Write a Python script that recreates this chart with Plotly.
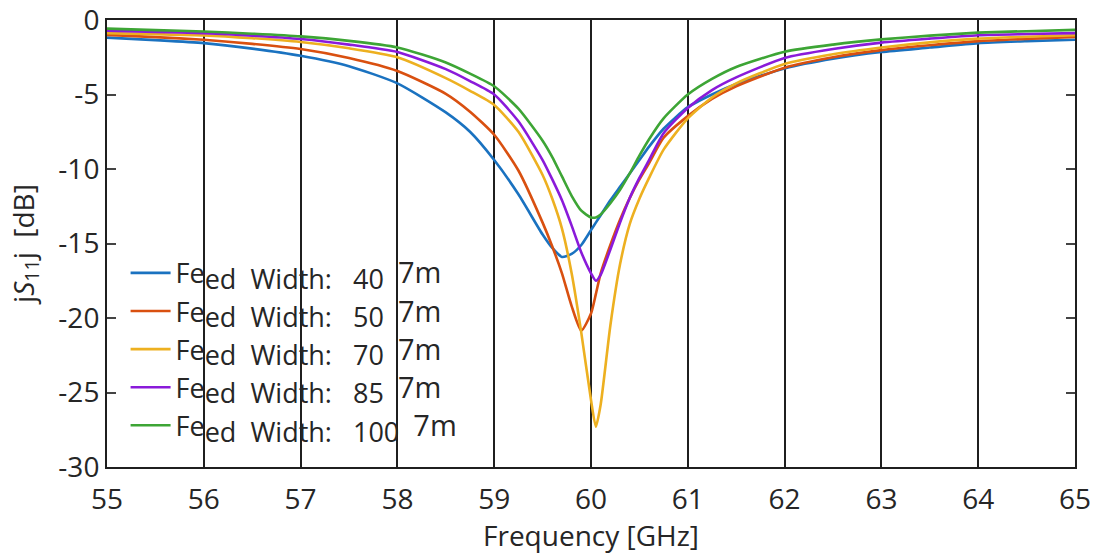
import plotly.graph_objects as go

freq = [55, 55.5, 56, 56.5, 57, 57.5, 58, 58.5, 58.75, 59, 59.25, 59.5, 59.6, 59.7,
        59.8, 59.9, 60, 60.05, 60.1, 60.2, 60.3, 60.4, 60.5, 60.6, 60.75, 61, 61.25,
        61.5, 62, 62.5, 63, 63.5, 64, 64.5, 65]

s11_w40 = [-1.18, -1.35, -1.55, -1.92, -2.4, -3.1, -4.25, -6.2, -7.5, -9.4, -11.7, -14.4, -15.3, -15.9,
           -15.7, -15.1, -14.1, -13.6, -13.1, -12.1, -11.2, -10.3, -9.4, -8.5, -7.3, -5.85, -5.0,
           -4.3, -3.25, -2.6, -2.15, -1.85, -1.55, -1.42, -1.33]
s11_w50 = [-1.0, -1.15, -1.33, -1.6, -1.95, -2.55, -3.42, -4.95, -6.15, -7.7, -10.1, -13.6, -15.2, -17.0,
           -19.2, -20.85, -19.7, -18.4, -17.0, -15.1, -13.4, -11.95, -10.7, -9.6, -7.9, -6.45, -5.3,
           -4.45, -3.2, -2.5, -2.02, -1.7, -1.42, -1.27, -1.14]
s11_w70 = [-0.88, -0.95, -1.03, -1.22, -1.48, -1.9, -2.5, -3.9, -4.75, -5.7, -7.5, -10.4, -12.0, -14.0,
           -17.0, -21.0, -25.5, -27.3, -25.8, -20.5, -16.4, -13.7, -12.0, -10.6, -8.7, -6.6, -5.2,
           -4.25, -2.95, -2.3, -1.85, -1.5, -1.25, -1.12, -1.02]
s11_w85 = [-0.72, -0.8, -0.88, -1.05, -1.28, -1.65, -2.15, -3.3, -4.1, -5.0, -6.8, -9.4, -10.7, -12.1,
           -13.8, -15.6, -17.0, -17.5, -17.1, -15.4, -13.6, -11.95, -10.6, -9.4, -7.6, -5.9, -4.7,
           -3.85, -2.55, -1.95, -1.52, -1.25, -1.02, -0.94, -0.88]
s11_w100 = [-0.58, -0.68, -0.77, -0.92, -1.1, -1.4, -1.84, -2.85, -3.6, -4.45, -5.95, -8.1, -9.2, -10.5,
            -11.8, -12.8, -13.25, -13.25, -13.05, -12.3, -11.4, -10.3, -9.1, -8.0, -6.6, -5.0, -3.95,
            -3.15, -2.13, -1.65, -1.3, -1.05, -0.85, -0.75, -0.66]

widths = ["40", "50", "70", "85", "100"]
series = [s11_w40, s11_w50, s11_w70, s11_w85, s11_w100]
colors = ["#1A72C0", "#D95010", "#EDB020", "#8A1ADA", "#3DA535"]

x_ticks = list(range(55, 66))
y_ticks = [-30, -25, -20, -15, -10, -5, 0]

FONT = "Open Sans"
FS = 28
LFS = 27

fig = go.Figure()
for w, vals, c in zip(widths, series, colors):
    name = ("Fe<sub><span style='font-size:%dpx'>ed&nbsp; Width:&nbsp;&nbsp; %s</span></sub>"
            "&nbsp;&nbsp;<span style='font-size:%dpx'>7m</span>" % (LFS, w, LFS + 2))
    fig.add_trace(go.Scatter(
        x=freq, y=vals, mode="lines", name=name,
        line=dict(color=c, width=2.6, shape="spline", smoothing=0.6),
    ))

fig.update_layout(
    width=1096, height=554,
    margin=dict(l=107, r=21, t=20, b=87, autoexpand=False),
    paper_bgcolor="white", plot_bgcolor="white",
    font=dict(family=FONT, size=FS, color="#262626"),
    showlegend=True,
    legend=dict(
        x=0.0192, y=0.488, xanchor="left", yanchor="top",
        bgcolor="rgba(0,0,0,0)", borderwidth=0,
        font=dict(family=FONT, size=LFS, color="#262626"),
        tracegroupgap=0, itemwidth=40,
    ),
)

fig.update_xaxes(
    range=[55, 65], tickmode="array", tickvals=x_ticks,
    ticktext=[str(v) for v in x_ticks], automargin=False,
    showgrid=True, gridcolor="#1f1f1f", gridwidth=2,
    showline=True, linecolor="#1f1f1f", linewidth=2, mirror=True,
    ticks="", zeroline=False, ticklabelstandoff=6, ticklabeloverflow="allow",
    title=dict(text="Frequency [GHz]", standoff=6, font=dict(family=FONT, size=FS)),
    tickfont=dict(family=FONT, size=FS),
)
fig.update_yaxes(
    range=[-30, 0], tickmode="array", tickvals=y_ticks,
    ticktext=[str(v) for v in y_ticks], automargin=False,
    showgrid=False, zeroline=False, ticklabeloverflow="allow",
    showline=True, linecolor="#1f1f1f", linewidth=2, mirror="ticks",
    ticks="inside", ticklen=9, tickwidth=1.5, tickcolor="#444",
    title=dict(text="j<i>S</i><sub>11</sub>j&nbsp; [dB]", standoff=16, font=dict(family=FONT, size=FS)),
    tickfont=dict(family=FONT, size=FS),
)

fig.write_html("out.html", config={"displayModeBar": False},
               post_script="document.body.style.margin='0';document.body.style.overflow='hidden';")
